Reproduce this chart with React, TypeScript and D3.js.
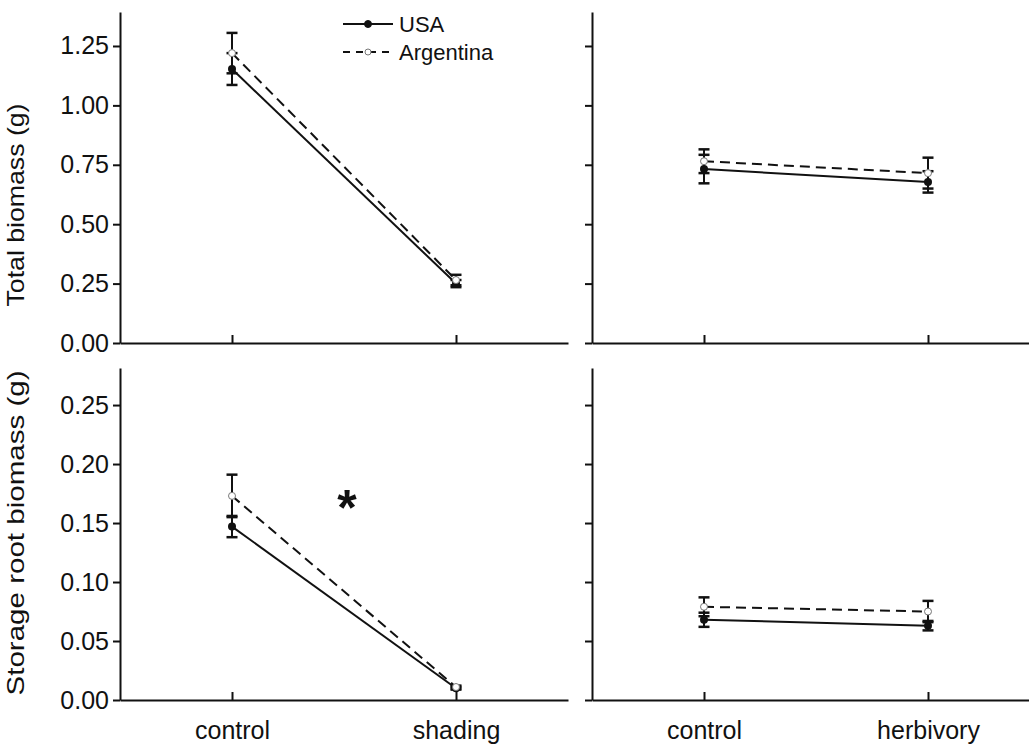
import React, { useRef, useEffect } from "react";
import * as d3 from "d3";

// categories
const shadingCats = ["control", "shading"];
const herbivoryCats = ["control", "herbivory"];

// total biomass (g), shading experiment
const totalShadingUSA = [1.153, 0.25];
const totalShadingUSAErr = [0.067, 0.015];
const totalShadingArg = [1.22, 0.265];
const totalShadingArgErr = [0.085, 0.022];

// total biomass (g), herbivory experiment
const totalHerbUSA = [0.732, 0.678];
const totalHerbUSAErr = [0.06, 0.045];
const totalHerbArg = [0.765, 0.715];
const totalHerbArgErr = [0.05, 0.065];

// storage root biomass (g), shading experiment
const rootShadingUSA = [0.147, 0.01];
const rootShadingUSAErr = [0.009, 0.0012];
const rootShadingArg = [0.173, 0.011];
const rootShadingArgErr = [0.018, 0.0012];

// storage root biomass (g), herbivory experiment
const rootHerbUSA = [0.068, 0.063];
const rootHerbUSAErr = [0.006, 0.004];
const rootHerbArg = [0.079, 0.075];
const rootHerbArgErr = [0.008, 0.009];

const totalTicks = [0, 0.25, 0.5, 0.75, 1.0, 1.25];
const rootTicks = [0, 0.05, 0.1, 0.15, 0.2, 0.25];

const FONT = "'Liberation Sans', Arial, sans-serif";

const App = () => {
  const svgRef = useRef<SVGSVGElement>(null);

  useEffect(() => {
    const svg = d3.select(svgRef.current);
    svg.selectAll("*").remove();

    const drawPanel = (
      cats: string[],
      xRange: [number, number],
      yMax: number,
      yRange: [number, number],
      ticks: number[],
      showYLabels: boolean,
      showXLabels: boolean,
      usa: number[],
      usaErr: number[],
      arg: number[],
      argErr: number[]
    ) => {
      const x = d3.scalePoint().domain(cats).range(xRange).padding(0.5);
      const y = d3.scaleLinear().domain([0, yMax]).range(yRange);
      const g = svg.append("g");

      // y axis
      const yAxis = g
        .append("g")
        .attr("transform", `translate(${xRange[0]},0)`)
        .call(
          d3
            .axisLeft(y)
            .tickValues(ticks)
            .tickSizeInner(7)
            .tickSizeOuter(0)
            .tickPadding(4)
            .tickFormat((d) => (showYLabels ? d3.format(".2f")(d as number) : ""))
        );
      yAxis.select(".domain").attr("stroke", "#111").attr("stroke-width", 2);
      yAxis.selectAll(".tick line").attr("stroke", "#111").attr("stroke-width", 2);
      yAxis
        .selectAll(".tick text")
        .attr("font-family", FONT)
        .attr("font-size", 25)
        .attr("fill", "#111");

      // x axis, ticks pointing up
      const xAxis = g
        .append("g")
        .attr("transform", `translate(0,${yRange[0]})`)
        .call(d3.axisBottom(x).tickSizeInner(-8).tickSizeOuter(0).tickFormat(() => ""));
      xAxis.select(".domain").attr("stroke", "#111").attr("stroke-width", 2);
      xAxis.selectAll(".tick line").attr("stroke", "#111").attr("stroke-width", 2);
      if (showXLabels) {
        xAxis
          .selectAll(".tick text")
          .text((d) => d as string)
          .attr("y", 39)
          .attr("dy", 0)
          .attr("font-family", FONT)
          .attr("font-size", 25)
          .attr("fill", "#111");
      }

      const line = d3
        .line<number>()
        .x((_, i) => x(cats[i])!)
        .y((d) => y(d));

      g.append("path")
        .datum(usa)
        .attr("fill", "none")
        .attr("stroke", "#111")
        .attr("stroke-width", 2)
        .attr("d", line);
      g.append("path")
        .datum(arg)
        .attr("fill", "none")
        .attr("stroke", "#111")
        .attr("stroke-width", 2)
        .attr("stroke-dasharray", "10,6")
        .attr("d", line);

      const errBars = (vals: number[], errs: number[]) => {
        vals.forEach((v, i) => {
          const cx = x(cats[i])!;
          const top = y(v + errs[i]);
          const bot = y(v - errs[i]);
          g.append("line")
            .attr("x1", cx).attr("x2", cx)
            .attr("y1", top).attr("y2", bot)
            .attr("stroke", "#111").attr("stroke-width", 2);
          [top, bot].forEach((yy) =>
            g.append("line")
              .attr("x1", cx - 5.5).attr("x2", cx + 5.5)
              .attr("y1", yy).attr("y2", yy)
              .attr("stroke", "#111").attr("stroke-width", 2.5)
          );
        });
      };
      errBars(usa, usaErr);
      errBars(arg, argErr);

      g.selectAll(".usa")
        .data(usa)
        .enter()
        .append("circle")
        .attr("cx", (_, i) => x(cats[i])!)
        .attr("cy", (d) => y(d))
        .attr("r", 4)
        .attr("fill", "#111");
      g.selectAll(".arg")
        .data(arg)
        .enter()
        .append("circle")
        .attr("cx", (_, i) => x(cats[i])!)
        .attr("cy", (d) => y(d))
        .attr("r", 3.5)
        .attr("fill", "#fff")
        .attr("stroke", "#777")
        .attr("stroke-width", 1);
    };

    drawPanel(shadingCats, [120, 568], 1.393, [343, 12], totalTicks, true, false,
      totalShadingUSA, totalShadingUSAErr, totalShadingArg, totalShadingArgErr);
    drawPanel(herbivoryCats, [592, 1040], 1.393, [343, 12], totalTicks, false, false,
      totalHerbUSA, totalHerbUSAErr, totalHerbArg, totalHerbArgErr);
    drawPanel(shadingCats, [120, 568], 0.2814, [700, 368], rootTicks, true, true,
      rootShadingUSA, rootShadingUSAErr, rootShadingArg, rootShadingArgErr);
    drawPanel(herbivoryCats, [592, 1040], 0.2814, [700, 368], rootTicks, false, true,
      rootHerbUSA, rootHerbUSAErr, rootHerbArg, rootHerbArgErr);

    // axis titles
    svg.append("text")
      .attr("transform", "rotate(-90)")
      .attr("x", -205).attr("y", 24)
      .attr("text-anchor", "middle")
      .attr("font-family", FONT).attr("font-size", 24)
      .attr("textLength", 203).attr("lengthAdjust", "spacingAndGlyphs")
      .attr("fill", "#111")
      .text("Total biomass (g)");
    svg.append("text")
      .attr("transform", "rotate(-90)")
      .attr("x", -533).attr("y", 24)
      .attr("text-anchor", "middle")
      .attr("font-family", FONT).attr("font-size", 24)
      .attr("textLength", 325).attr("lengthAdjust", "spacingAndGlyphs")
      .attr("fill", "#111")
      .text("Storage root biomass (g)");

    // significance mark
    svg.append("text")
      .attr("x", 347).attr("y", 525)
      .attr("text-anchor", "middle")
      .attr("font-family", FONT).attr("font-size", 50).attr("font-weight", "bold")
      .attr("fill", "#111")
      .text("*");

    // legend
    const legend = svg.append("g");
    const items = [
      { name: "USA", dash: null, fill: "#111", stroke: "#111" },
      { name: "Argentina", dash: "7,6", fill: "#fff", stroke: "#777" },
    ];
    items.forEach((it, i) => {
      const ly = 24 + i * 28;
      legend.append("line")
        .attr("x1", 343).attr("x2", 393).attr("y1", ly).attr("y2", ly)
        .attr("stroke", "#111").attr("stroke-width", 2)
        .attr("stroke-dasharray", it.dash);
      legend.append("circle")
        .attr("cx", 368).attr("cy", ly).attr("r", i === 0 ? 3.5 : 3)
        .attr("fill", it.fill).attr("stroke", it.stroke);
      legend.append("text")
        .attr("x", 399).attr("y", ly).attr("dy", "0.35em")
        .attr("font-family", FONT).attr("font-size", 22)
        .attr("fill", "#111")
        .text(it.name);
    });
  }, []);

  return (
    <svg
      ref={svgRef}
      width={1029}
      height={745}
      style={{ position: "absolute", left: 0, top: 0, background: "#fff" }}
    ></svg>
  );
};

export default App;
